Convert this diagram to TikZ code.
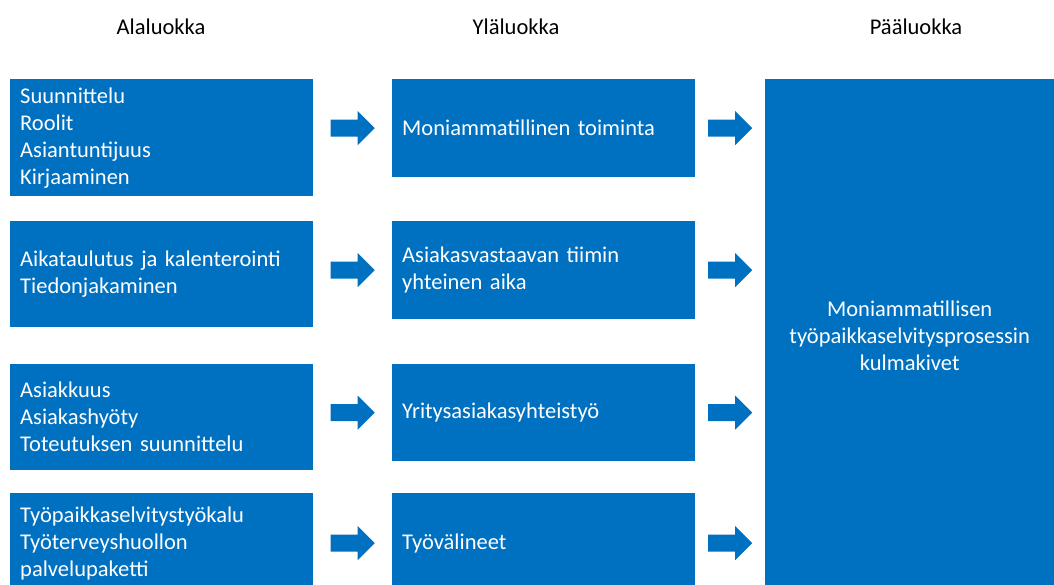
\documentclass[tikz,border=0pt]{standalone}
\usepackage{fontspec}
\setmainfont{Carlito}
\usetikzlibrary{calc}
\definecolor{boxblue}{HTML}{0070C0}
\begin{document}
\begin{tikzpicture}[x=1pt,y=-1pt,
  txt/.style={font=\fontsize{22.5}{27}\selectfont},
  head/.style={txt, text=black},
  box/.style={txt, fill=boxblue, text=white, inner xsep=10pt, inner ysep=0pt,
    text width=283pt, align=left, anchor=north west},
  bigbox/.style={box, text width=269pt, align=center},
  blockarrow/.pic={\fill[boxblue] (-22,-8.5) -- (5,-8.5) -- (5,-17) -- (22,0)
    -- (5,17) -- (5,8.5) -- (-22,8.5) -- cycle;}]
\useasboundingbox (0,0) rectangle (1054,585);
\clip (0,0) rectangle (1054,585);

% column headings
\node[head] (h1) at (161,27) {Alaluokka};
\node[head] (h2) at (516,27) {Yläluokka};
\node[head] (h3) at (916,27) {Pääluokka};

% sub-categories
\node[box, minimum height=117pt] (l1) at (10,79)
  {Suunnittelu\\Roolit\\Asiantuntijuus\\Kirjaaminen};
\node[box, minimum height=106pt] (l2) at (10,221)
  {Aikataulutus ja kalenterointi\\Tiedonjakaminen};
\node[box, minimum height=106pt] (l3) at (10,364)
  {Asiakkuus\\Asiakashyöty\\Toteutuksen suunnittelu};
\node[box, minimum height=100pt] (l4) at (10,493)
  {Työpaikkaselvitystyökalu\\Työterveyshuollon\\palvelupaketti};

% upper categories
\node[box, minimum height=98pt] (m1) at (392,79) {Moniammatillinen toiminta};
\node[box, minimum height=98pt] (m2) at (392,221)
  {Asiakasvastaavan tiimin\\yhteinen aika};
\node[box, minimum height=97pt] (m3) at (392,364) {Yritysasiakasyhteistyö};
\node[box, minimum height=100pt] (m4) at (392,493) {Työvälineet};

% main category
\node[bigbox, minimum height=514pt] (r) at (765,79)
  {Moniammatillisen\\työpaikkaselvitysprosessin\\kulmakivet};

% block arrows between the columns
\foreach \i in {1,2,3,4}{
  \pic at ($(l\i.east |- m\i.west)!.5!(m\i.west)$) {blockarrow};
  \pic at ($(m\i.east)!.5!(m\i.east -| r.west)$) {blockarrow};
}
\end{tikzpicture}
\end{document}
